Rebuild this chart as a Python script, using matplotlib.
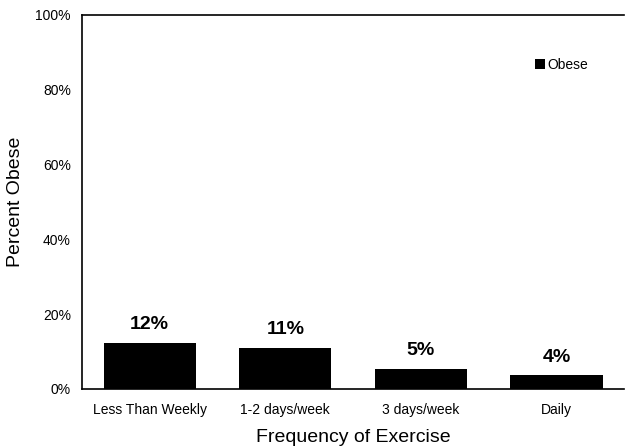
import matplotlib
matplotlib.use("Agg")
import matplotlib.pyplot as plt
from matplotlib.ticker import PercentFormatter

plt.rcParams['font.family'] = ['Liberation Sans', 'DejaVu Sans']

categories = ["Less Than Weekly", "1-2 days/week", "3 days/week", "Daily"]
obese = [12.3, 10.9, 5.3, 3.6]
series_name = "Obese"
yticks = [0, 20, 40, 60, 80, 100]

fig = plt.figure(figsize=(6.25, 4.47), dpi=100)
ax = fig.add_axes([0.131, 0.13, 0.868, 0.837])

x = range(len(categories))
bars = ax.bar(x, obese, width=0.68, color="black", label=series_name)
for b, v in zip(bars, obese):
    ax.annotate(f"{v:.0f}%", (b.get_x() + b.get_width() / 2, v),
                xytext=(0, 7), textcoords="offset points",
                ha="center", va="bottom", fontsize=14, fontweight="bold")

ax.set_xlim(-0.5, len(categories) - 0.5)
ax.set_ylim(0, 100)
ax.set_yticks(yticks)
ax.yaxis.set_major_formatter(PercentFormatter(decimals=0))
ax.set_xticks(list(x))
ax.set_xticklabels(categories)
ax.tick_params(axis="both", length=0, labelsize=10, pad=8)
ax.tick_params(axis="x", pad=10)
ax.spines["right"].set_visible(False)
for s in ["left", "bottom", "top"]:
    ax.spines[s].set_linewidth(1.2)

ax.set_ylabel("Percent Obese", fontsize=14, labelpad=8)
ax.set_xlabel("Frequency of Exercise", fontsize=14, labelpad=9)

fig.legend(loc="center left", bbox_to_anchor=(535 / 625, 1 - 65 / 447),
           frameon=False, fontsize=10, handlelength=0.7, handleheight=0.7,
           handletextpad=0.2, borderpad=0, borderaxespad=0)

fig.savefig("out.png", dpi=100)
